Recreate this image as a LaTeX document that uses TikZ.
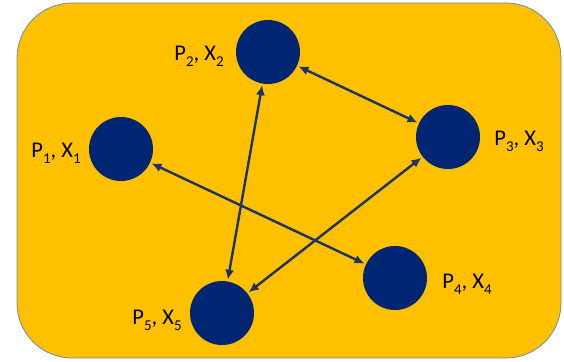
\documentclass[tikz,border=0pt]{standalone}
\usepackage{fontspec}
\setmainfont{Carlito}
\usetikzlibrary{arrows.meta}
\definecolor{bgyellow}{HTML}{FFC000}
\definecolor{navy}{HTML}{002673}
\definecolor{arrowc}{HTML}{1F3264}
\definecolor{frame}{HTML}{6D8BAA}
\newcommand{\mysub}[1]{\raisebox{-0.28em}{\fontsize{15}{15}\selectfont #1}}
\begin{document}
\begin{tikzpicture}[x=1pt,y=-1pt,
  dot/.style={circle,fill=navy,draw=none,minimum size=64pt,inner sep=0pt},
  lab/.style={font=\fontsize{22.5}{24}\selectfont,text=black,inner sep=0pt},
  link/.style={draw=arrowc,line width=2.4pt,{Latex[length=10pt,width=9pt]}-{Latex[length=10pt,width=9pt]},shorten <=1.5pt,shorten >=1.5pt}]
\useasboundingbox (0,0) rectangle (564,361);
\draw[fill=bgyellow,draw=frame,line width=0.8pt,rounded corners=55pt] (17,3) rectangle (561,358);
\node[dot] (n1) at (121,149) {};
\node[dot] (n2) at (268,52) {};
\node[dot] (n3) at (448,137) {};
\node[dot] (n4) at (395,278) {};
\node[dot] (n5) at (222,313) {};
\node[lab] (l1) at (56,153) {P\mysub{1}, X\mysub{1}};
\node[lab] (l2) at (199,56) {P\mysub{2}, X\mysub{2}};
\node[lab] (l3) at (519,141) {P\mysub{3}, X\mysub{3}};
\node[lab] (l4) at (467,284) {P\mysub{4}, X\mysub{4}};
\node[lab] (l5) at (157,320) {P\mysub{5}, X\mysub{5}};
\draw[link] (n2) -- (n3);
\draw[link] (n2) -- (n5);
\draw[link] (n3) -- (n5);
\draw[link] (n1) -- (n4);
\end{tikzpicture}
\end{document}
